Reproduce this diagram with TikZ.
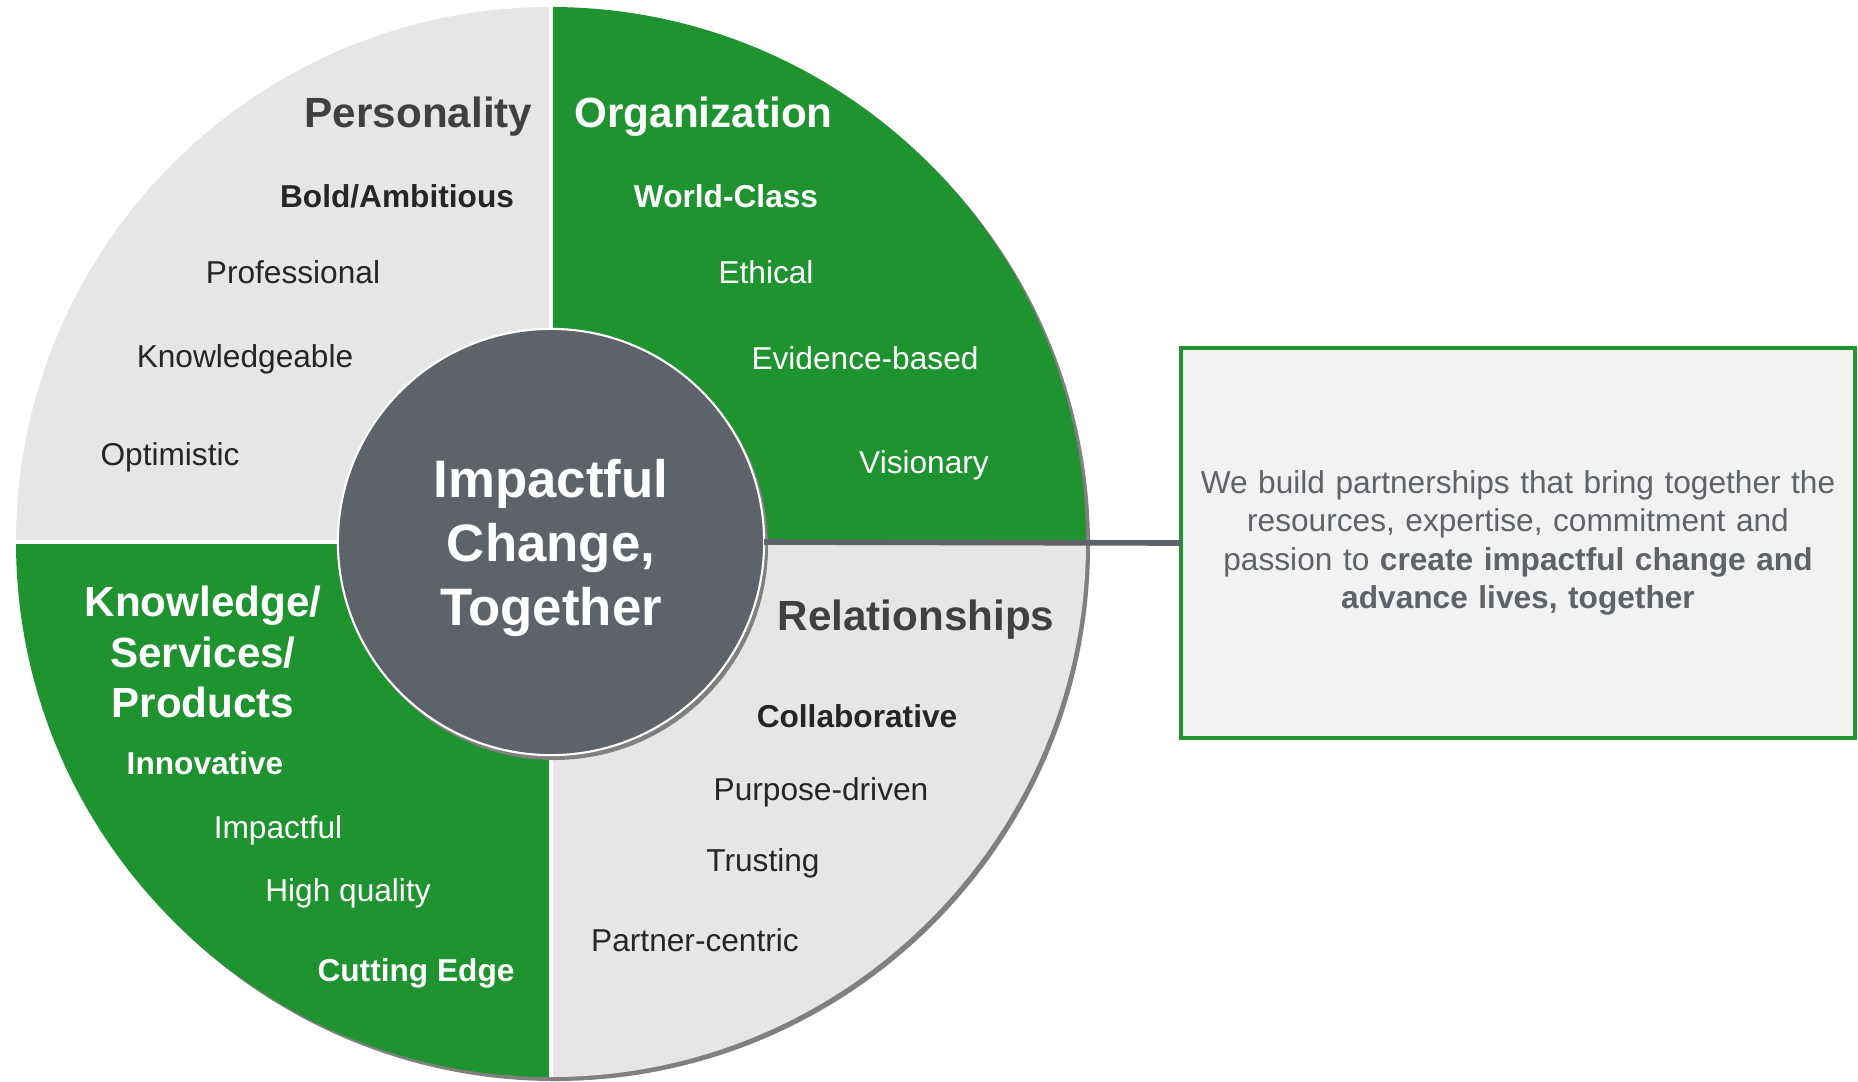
\documentclass[tikz,border=0pt]{standalone}
\usepackage{fontspec}
\setmainfont{Liberation Sans}
\usepackage{tikz}
\usetikzlibrary{
	positioning, calc
}
\definecolor{wheelgreen}    {RGB}{30, 147,  48}
\definecolor{wheelgray}     {RGB}{230, 230, 230}
\definecolor{rimgray}       {RGB}{128, 128, 128}
\definecolor{hubgray}       {RGB}{94,  99,  105}
\definecolor{headgray}      {RGB}{64,  64,  64}
\definecolor{textgray}      {RGB}{38,  38,  38}
\definecolor{boxgray}       {RGB}{242, 242, 242}

\begin{document}
\begin{tikzpicture}[x=0.01cm,y=-0.01cm,
	quadhead/.style={font=\fontsize{12}{14.4}\selectfont\bfseries, inner sep=0pt},
	quaditem/.style={font=\fontsize{9}{10.8}\selectfont, inner sep=0pt},
	hub/.style={circle, fill=hubgray, draw=white, line width=0.6pt, minimum size=4.26cm,
		inner sep=0pt, outer sep=0pt},
	hubtext/.style={text=white, align=center, inner sep=0pt,
		font=\fontsize{15}{18.2}\selectfont\bfseries},
	missionbox/.style={draw=wheelgreen, line width=1.15pt, fill=boxgray,
		minimum width=6.74cm, minimum height=3.90cm, text width=6.5cm, align=center,
		inner sep=0pt, outer sep=0pt, text=hubgray, font=\fontsize{9}{10.9}\selectfont},
	connector/.style={draw=hubgray, line width=1.6pt}]
	\useasboundingbox (0,0) rectangle (1858,1081);
	\coordinate (C) at (551,542);
	% wheel with its rim
	\fill[rimgray] ($(C)+(4,4)$) circle[radius=535];
	\fill[wheelgray]  (C) -- ++(180:535) arc[start angle=180, end angle=270, radius=535] -- cycle;
	\fill[wheelgreen] (C) -- ++(270:535) arc[start angle=270, end angle=360, radius=535] -- cycle;
	\fill[wheelgray]  (C) -- ++(0:535) arc[start angle=0, end angle=90, radius=535] -- cycle;
	\fill[wheelgreen] (C) -- ++(90:535) arc[start angle=90, end angle=180, radius=535] -- cycle;
	\draw[white, line width=0.9pt] (551,7) -- (551,1077);
	\draw[white, line width=0.9pt] (16,542) -- (338,542);
	% hub
	\fill[rimgray] ($(C)+(3,4)$) circle[radius=214];
	\node[hub] (hub) at (C) {};
	\node[hubtext] (hubtext) at (551,548) {Impactful\\Change,\\Together};
	\node[missionbox] (mission) at (1518,543) {We build partnerships that bring together the\\
		resources, expertise, commitment and\\
		passion to \textbf{create impactful change and}\\
		\textbf{advance lives, together}};
	\draw[connector] (hub.east) -- (mission.west);

	\node[quadhead, text=headgray, anchor=east] (personality) at (533,117) {Personality};
	\node[quaditem, text=textgray, font=\fontsize{9}{10.8}\selectfont\bfseries] (bold) at (397,196) {Bold/Ambitious};
	\node[quaditem, text=textgray] (professional) at (293,272) {Professional};
	\node[quaditem, text=textgray] (knowledgeable) at (245,359) {Knowledgeable};
	\node[quaditem, text=textgray] (optimistic) at (170,457) {Optimistic};

	\node[quadhead, text=white, anchor=west] (organization) at (574,117) {Organization};
	\node[quaditem, text=white, font=\fontsize{9}{10.8}\selectfont\bfseries] (worldclass) at (726,196) {World-Class};
	\node[quaditem, text=white] (ethical) at (766,272) {Ethical};
	\node[quaditem, text=white] (evidence) at (865,358) {Evidence-based};
	\node[quaditem, text=white] (visionary) at (924,465) {Visionary};

	\node[quadhead, text=white, align=center] (knowledge) at (203,652) {Knowledge/\\Services/\\Products};
	\node[quaditem, text=white, font=\fontsize{9}{10.8}\selectfont\bfseries] (innovative) at (205,763) {Innovative};
	\node[quaditem, text=white] (impactful) at (278,830) {Impactful};
	\node[quaditem, text=white] (highquality) at (348,893) {High quality};
	\node[quaditem, text=white, font=\fontsize{9}{10.8}\selectfont\bfseries] (cutting) at (416,973) {Cutting Edge};

	\node[quadhead, text=headgray] (relationships) at (916,620) {Relationships};
	\node[quaditem, text=textgray, font=\fontsize{9}{10.8}\selectfont\bfseries] (collaborative) at (857,716) {Collaborative};
	\node[quaditem, text=textgray] (purpose) at (821,792) {Purpose-driven};
	\node[quaditem, text=textgray] (trusting) at (763,863) {Trusting};
	\node[quaditem, text=textgray] (partner) at (695,940) {Partner-centric};
\end{tikzpicture}
\end{document}
